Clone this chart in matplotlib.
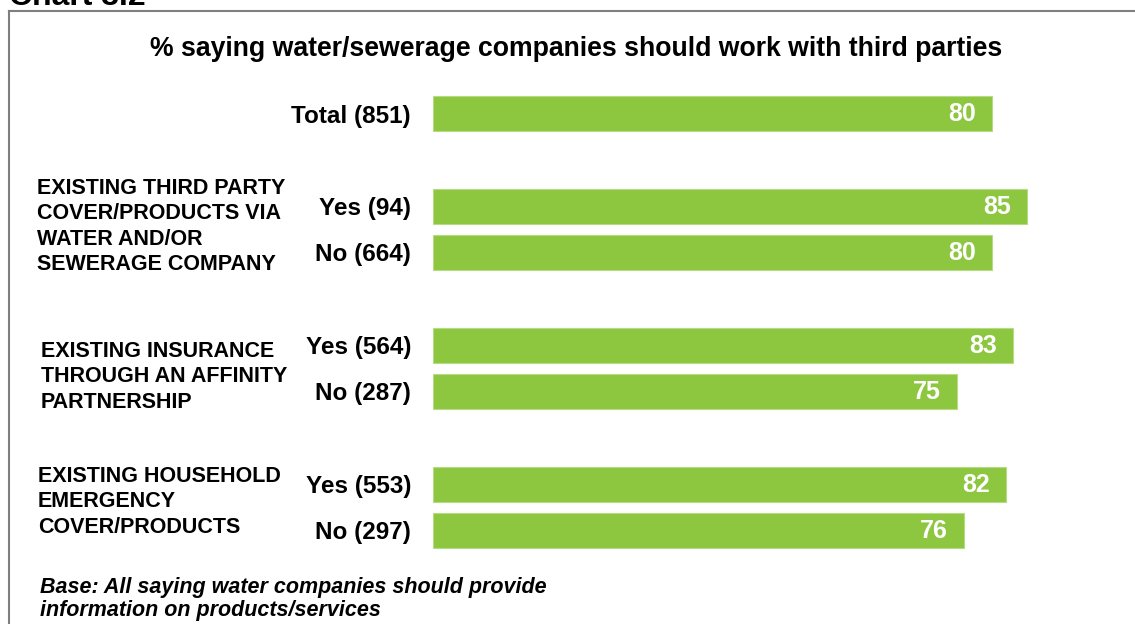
import matplotlib
matplotlib.use("Agg")
import matplotlib.pyplot as plt
from matplotlib.lines import Line2D

# ---- data ----
row_labels = ["Total (851)", "Yes (94)", "No (664)", "Yes (564)", "No (287)",
              "Yes (553)", "No (297)"]
values = [80, 85, 80, 83, 75, 82, 76]
group_labels = [
    "EXISTING THIRD PARTY\nCOVER/PRODUCTS VIA\nWATER AND/OR\nSEWERAGE COMPANY",
    "EXISTING INSURANCE\nTHROUGH AN AFFINITY\nPARTNERSHIP",
    "EXISTING HOUSEHOLD\nEMERGENCY\nCOVER/PRODUCTS",
]
title = "% saying water/sewerage companies should work with third parties"
base_note = "Base: All saying water companies should provide\ninformation on products/services"
chart_name = "Chart 3.2"

# ---- layout ----
W, H, DPI = 1135, 624, 100
slots = [0, 2, 3, 5, 6, 8, 9]      # row slots, gaps between groups
pitch = 46.33                      # px per slot
first_px = 113.5                   # centre of first bar from top (px)
bar_left_px = 433
px_per_unit = 6.99

green = "#8DC63F"
font = "Liberation Sans"

fig = plt.figure(figsize=(W / DPI, H / DPI), dpi=DPI)
fig.patch.set_facecolor("white")

ax = fig.add_axes([bar_left_px / W, 0, 1 - bar_left_px / W, 1])
ax.set_xlim(0, (W - bar_left_px) / px_per_unit)
ax.set_ylim((H - first_px) / pitch, -first_px / pitch)
ax.barh(slots, values, height=35 / pitch, color=green, edgecolor="#b5dc85",
        linewidth=0.8)
for s, v in zip(slots, values):
    ax.text(v - 16 / px_per_unit, s + 0.02, f"{v}", ha="right", va="center",
            color="white", fontsize=18, fontweight="bold", family=font)

ax.set_yticks(slots)
ax.set_yticklabels(row_labels, fontsize=17.5, fontweight="bold", family=font)
ax.tick_params(axis="y", length=0, pad=15.8)
ax.tick_params(axis="x", length=0, labelbottom=False)
for sp in ax.spines.values():
    sp.set_visible(False)
ax.patch.set_alpha(0)


def fy(px):
    return 1 - px / H


# group headings (left column)
heading_pos = [(37, 178), (41, 341), (38, 466)]
for (x, y), lab in zip(heading_pos, group_labels):
    fig.text(x / W, fy(y), lab, ha="left", va="top", fontsize=15.5,
             fontweight="bold", family=font, linespacing=1.27)

fig.text(576 / W, fy(49), title, ha="center", va="center", fontsize=19.2,
         fontweight="bold", family=font)
fig.text(40 / W, fy(577), base_note, ha="left", va="top", fontsize=15.5,
         fontweight="bold", style="italic", family=font, linespacing=1.12)
fig.text(9 / W, fy(5), chart_name, ha="left", va="baseline", fontsize=23,
         fontweight="bold", family=font)

# frame around the chart
frame = "#7f7f7f"
fig.add_artist(Line2D([9 / W, 9 / W], [fy(11), 0], color=frame, lw=1.5))
fig.add_artist(Line2D([9 / W, 1], [fy(11), fy(11)], color=frame, lw=1.5))

fig.savefig("out.png", dpi=DPI, facecolor="white")
